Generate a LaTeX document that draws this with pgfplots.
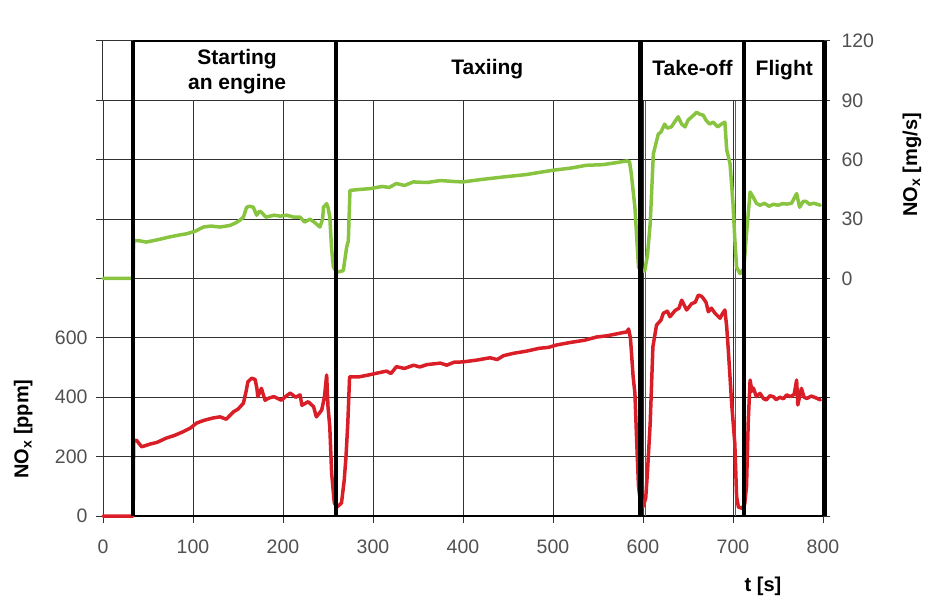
\documentclass[border=0pt]{standalone}
\usepackage{pgfplots}
\pgfplotsset{compat=1.18}
\usepackage{fontspec}
\setmainfont{Liberation Sans}
\definecolor{nred}{RGB}{218,30,40}
\definecolor{ngreen}{RGB}{137,196,64}
\definecolor{gridc}{RGB}{50,50,50}
\definecolor{tickc}{RGB}{80,80,80}

\pgfplotstableread{
t ppm
0 0
33.5 0
34 250
37 256
43 233
52 242
60 248
70 262
80 272
89 284
97 296
104 313
112 322
122 330
130 334
137 326
145 351
150 360
156 380
159 420
161 452
165 464
169 460
171 430
172 402
176 430
180 390
185 398
190 402
198 390
204 405
208 414
214 400
219 408
221 373
228 385
234 368
237 334
240 345
243 357
246 400
248.5 475
250 368
252 300
254 145
257 44
260 30
265 44
268 120
270 200
272 313
274 469
285 469
295 475
304 481
315 488
320 480
326 503
335 497
345 508
352 502
360 510
375 515
382 508
390 518
400 519
415 525
430 533
438 527
445 540
456 548
470 555
485 565
495 568
504 576
520 585
535 592
548.5 603
560 607
570 613
578 618
582 620
584 630
586 600
587 559
589 470
591 414
593 250
595 100
597 50
600 31
603 60
605 150
608 313
611 570
615 643
620 660
622.6 683
627 690
630 671
635.6 692
640 700
643 727
648.5 694
654 715
658 720
661.5 744
665 740
667 733
670 720
672.6 688
676 700
680 683
685.6 666
688 680
691 694
693 637
694.8 559
698.5 379
702 245
704 65
706 30
710 26
713 40
715 100
717 323
719 458
721 420
722.6 431
726 402
730 413
734 395
737 391
741 405
744.8 402
748 392
752 400
756 395
759.6 408
764 402
768 410
770.7 458
772 374
776 430
779 400
782 396
787 404
792 398
797 391
}\redtab

\pgfplotstableread{
t mgs
0 0
33.5 0
34 19
39 19.2
48 18.4
60 19.5
74 21
85 22
93 22.6
103 24
111.5 26
120 26.5
130 26
141 26.8
147 28
152 29.4
156 31
159.6 36
163 36.5
167 36
170.7 32
174 34
176 33.5
181 31
190 32
197 31.5
204 32
212 31
219 31
224 28.5
230 30
236 28
241 26
244 30
245 36
248.5 37.8
250 36
252 31
254 15
256 5.7
259.6 3.2
263 3.5
267 4
270.7 15.8
272.6 19
274.4 44.5
285 45
296.7 45.4
310 46.5
318 46
326 48
335 47
344.8 48.8
360 48.5
375 49.5
390 49
400 48.8
420 50
444.8 51.3
470 52.5
500 54.7
520 55.8
537 57.2
555 57.5
570 58.5
582 59.4
585 59
587 53
591 36
595 5.7
598 3.5
602 4
605 12
608 27.7
611.5 63
617 73
620 74
624 78
627 76
631.5 76.6
635 79
639 81.7
643 78
646.7 76.6
650 80
655 82
659.6 84
663 83
667 82.5
670 80
674 78
678 79
683 76.6
687 78
691 79
693 65
696.7 58
700 37.8
702 20
704 5.7
707.8 2.4
712 5
715 22.6
719 43.7
722.6 41
726 38
730 37
735 38
740 36.5
745 37.5
750 37
755 37.8
760 37.6
765 38
770.7 42.9
774 36
778 39
781 39
785 37.5
790 38
797 37
}\greentab

\begin{document}
\begin{tikzpicture}
\path[use as bounding box] (-103pt,-86pt) rectangle (822pt,516pt);
\begin{axis}[
  at={(0pt,0pt)}, anchor=south west,
  scale only axis, width=720pt, height=475pt,
  clip=false,
  xmin=0, xmax=800, ymin=0, ymax=1600,
  axis x line*=bottom, axis y line*=left,
  x axis line style={black, line width=1.6pt, -},
  y axis line style={gridc, line width=1pt, -},
  xtick={0,100,...,800}, ytick={0,200,...,1600},
  yticklabels={0,200,400,600,{},{},{},{},{}},
  grid=major, major grid style={gridc, line width=1pt},
  tick align=outside, major tick length=7pt,
  tick style={gridc, line width=1pt},
  ticklabel style={font=\fontsize{19.5}{22}\selectfont, text=tickc},
  xticklabel style={yshift=-13pt},
  yticklabel style={xshift=-5pt},
  /pgf/number format/assume math mode=true,
  every axis plot/.append style={line join=round, line cap=round},
]
\addplot[nred, line width=3.5pt] table[x=t, y=ppm] {\redtab};
\end{axis}
\begin{axis}[
  at={(0pt,0pt)}, anchor=south west,
  scale only axis, width=720pt, height=475pt,
  clip=false,
  xmin=0, xmax=800, ymin=-120, ymax=120,
  axis x line=none, axis y line*=right,
  y axis line style={gridc, line width=1pt, -},
  ytick={-120,-90,...,120},
  yticklabels={{},{},{},{},0,30,60,90,120},
  tick align=outside, major tick length=7pt,
  tick style={gridc, line width=1pt},
  ticklabel style={font=\fontsize{19.5}{22}\selectfont, text=tickc},
  yticklabel style={xshift=8pt},
  /pgf/number format/assume math mode=true,
  every axis plot/.append style={line join=round, line cap=round},
]
\draw[gridc!80, line width=0.6pt] (axis cs:603,-120) -- (axis cs:603,90);
\draw[gridc!80, line width=0.6pt] (axis cs:703,-120) -- (axis cs:703,90);
\addplot[ngreen, line width=3.5pt] table[x=t, y=mgs] {\greentab};
\fill[white] (axis cs:0,90) rectangle (axis cs:800,120);
\draw[gridc, line width=1pt] (axis cs:0,90) -- (axis cs:800,90);
\draw[gridc, line width=1pt] (axis cs:0,90) -- (axis cs:0,120);
\draw[gridc, line width=1pt] (axis cs:0,120) -- (axis cs:33.5,120);
\draw[black, line width=2.2pt] (axis cs:33.5,120) -- (axis cs:801,120);
\draw[black, line width=4.6pt] (axis cs:33.5,-120) -- (axis cs:33.5,120);
\draw[black, line width=4.6pt] (axis cs:259,-120) -- (axis cs:259,120);
\draw[black, line width=4.6pt] (axis cs:597,-120) -- (axis cs:597,120);
\draw[black, line width=4.6pt] (axis cs:712,-120) -- (axis cs:712,120);
\draw[black, line width=4.6pt] (axis cs:801.5,-120) -- (axis cs:801.5,120);
\begin{scope}[every node/.style={font=\fontsize{21}{25}\selectfont\bfseries, anchor=base, inner sep=0pt}]
\node at (axis cs:149,108.2) {Starting};
\node at (axis cs:149,95.5) {an engine};
\node at (axis cs:427,103) {Taxiing};
\node at (axis cs:655,102.4) {Take-off};
\node at (axis cs:757,102.4) {Flight};
\end{scope}
\node[rotate=90, font=\fontsize{20}{24}\selectfont\bfseries] at (rel axis cs:-0.1107,0.183) {NO\textsubscript{x} [ppm]};
\node[rotate=90, font=\fontsize{20}{24}\selectfont\bfseries] at (rel axis cs:1.1236,0.739) {NO\textsubscript{x} [mg/s]};
\node[font=\fontsize{20}{24}\selectfont\bfseries] at (rel axis cs:0.9167,-0.147) {t [s]};
\end{axis}
\end{tikzpicture}
\end{document}
